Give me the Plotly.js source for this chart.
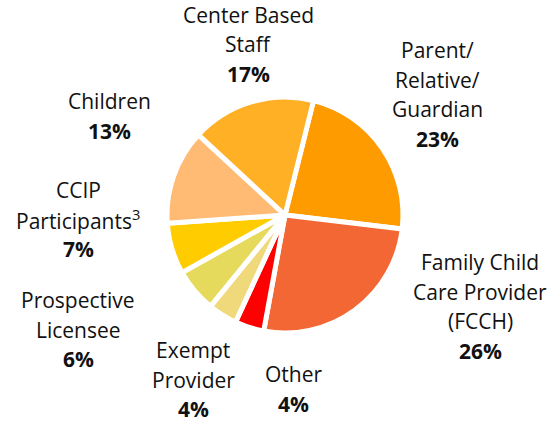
<!DOCTYPE html>
<html><head><meta charset="utf-8">
<script src="https://cdn.plot.ly/plotly-3.0.1.min.js"></script>
<style>html,body{margin:0;padding:0;background:#fff}#c{width:549px;height:423px}</style>
</head><body><div id="c"></div>
<script>
const categories = ["Parent/<br>Relative/<br>Guardian", "Family Child<br>Care Provider<br>(FCCH)", "Other", "Exempt<br>Provider", "Prospective<br>Licensee", "CCIP<br>Participants<sup>3</sup>", "Children", "Center Based<br>Staff"];
const values = [23, 26, 4, 4, 6, 7, 13, 17];
const colors = ["#FD9B00", "#F26734", "#FF0000", "#F0D97A", "#E6DA5C", "#FFCC00", "#FFBB73", "#FFB024"];
// label anchor positions in pixels (center x, first line y)
const labelPos = [[437, 50], [480, 262], [293, 374], [193, 350], [78, 300], [78, 190], [109, 101], [248, 15]];

const W = 549, H = 423, LH = 29.5;
const annotations = [];
categories.forEach((c, i) => {
  const lines = c.split("<br>").concat(["<b>" + values[i] + "%</b>"]);
  lines.forEach((ln, j) => {
    annotations.push({
      text: ln, xref: "paper", yref: "paper",
      x: labelPos[i][0] / W, y: 1 - (labelPos[i][1] + j * LH) / H,
      xanchor: "center", yanchor: "middle", showarrow: false, borderpad: 0,
      font: {family: "Open Sans, sans-serif", size: 21, color: "#111"}
    });
  });
});

const cx = 285, cy = 215, r = 118;
Plotly.newPlot("c", [{
  type: "pie", values: values, labels: categories,
  sort: false, direction: "clockwise", rotation: 14,
  marker: {colors: colors, line: {color: "#fff", width: 5}},
  textinfo: "none", hoverinfo: "none",
  domain: {x: [(cx - r) / W, (cx + r) / W], y: [(H - cy - r) / H, (H - cy + r) / H]}
}], {
  width: W, height: H, showlegend: false,
  margin: {l: 0, r: 0, t: 0, b: 0},
  paper_bgcolor: "#fff", annotations: annotations
}, {displayModeBar: false, staticPlot: true});
</script></body></html>
